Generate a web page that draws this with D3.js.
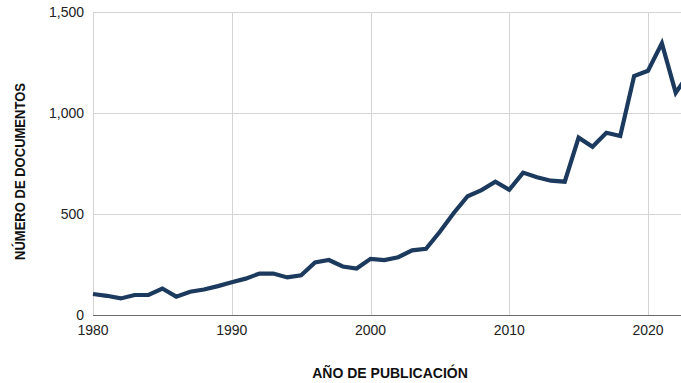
<!DOCTYPE html>
<html>
<head>
<meta charset="utf-8">
<script src="https://cdn.jsdelivr.net/npm/d3@7"></script>
<style>
  html, body { margin: 0; padding: 0; background: #fff; }
  svg { display: block; font-family: "Liberation Sans", Arial, sans-serif; }
</style>
</head>
<body>
<svg id="chart" width="681" height="383"></svg>
<script>
// Publications per year
const years = [1980,1981,1982,1983,1984,1985,1986,1987,1988,1989,
               1990,1991,1992,1993,1994,1995,1996,1997,1998,1999,
               2000,2001,2002,2003,2004,2005,2006,2007,2008,2009,
               2010,2011,2012,2013,2014,2015,2016,2017,2018,2019,
               2020,2021,2022,2023];
const documents = [104,95,82,99,99,131,91,115,126,143,
                   162,180,205,205,186,197,260,272,240,230,
                   278,272,286,320,328,412,505,588,618,660,
                   620,705,682,665,660,878,833,902,886,1183,
                   1209,1345,1100,1200];
const xTicks = [1980, 1990, 2000, 2010, 2020];
const yTicks = [0, 500, 1000, 1500];
const xTitle = "AÑO DE PUBLICACIÓN";
const yTitle = "NÚMERO DE DOCUMENTOS";

const svg = d3.select("#chart");
const W = 681, H = 383;
const plotLeft = 93, plotTop = 12, plotBottom = 315;
const pxPerYear = 13.875;

const x = d3.scaleLinear()
  .domain([1980, 2023])
  .range([plotLeft, plotLeft + 43 * pxPerYear]);
const y = d3.scaleLinear().domain([0, 1500]).range([plotBottom, plotTop]);

const grid = svg.append("g").attr("class", "grid");
// horizontal gridlines
grid.selectAll("line.h")
  .data(yTicks.filter(d => d > 0))
  .join("line")
  .attr("x1", plotLeft).attr("x2", W)
  .attr("y1", d => Math.round(y(d)) + 0.5).attr("y2", d => Math.round(y(d)) + 0.5)
  .attr("stroke", "#d4d4d4").attr("stroke-width", 1);
// vertical gridlines
grid.selectAll("line.v")
  .data(xTicks)
  .join("line")
  .attr("x1", d => Math.round(x(d)) + 0.5).attr("x2", d => Math.round(x(d)) + 0.5)
  .attr("y1", plotTop).attr("y2", plotBottom)
  .attr("stroke", "#d4d4d4").attr("stroke-width", 1);

// baseline
svg.append("line")
  .attr("x1", plotLeft).attr("x2", W)
  .attr("y1", plotBottom + 0.5).attr("y2", plotBottom + 0.5)
  .attr("stroke", "#6b6b6b").attr("stroke-width", 1);

// y tick labels
svg.append("g").selectAll("text")
  .data(yTicks)
  .join("text")
  .attr("x", 84)
  .attr("y", d => y(d))
  .attr("dy", "0.35em")
  .attr("text-anchor", "end")
  .attr("font-size", 14)
  .attr("fill", "#222")
  .text(d3.format(","));

// x tick labels
svg.append("g").selectAll("text")
  .data(xTicks)
  .join("text")
  .attr("x", d => x(d))
  .attr("y", 335)
  .attr("text-anchor", "middle")
  .attr("font-size", 14)
  .attr("fill", "#222")
  .text(d => d);

// series line
const line = d3.line()
  .x((d, i) => x(years[i]))
  .y(d => y(d))
  .curve(d3.curveLinear);
svg.append("path")
  .datum(documents)
  .attr("d", line)
  .attr("fill", "none")
  .attr("stroke", "#1b3a5e")
  .attr("stroke-width", 4.2)
  .attr("stroke-linejoin", "miter")
  .attr("stroke-linecap", "butt");

// axis titles
svg.append("text")
  .attr("x", 390).attr("y", 378)
  .attr("text-anchor", "middle")
  .attr("font-size", 14)
  .attr("font-weight", "bold")
  .attr("fill", "#111")
  .text(xTitle);

// condensed vertical title
svg.append("text")
  .attr("transform", "translate(24.5,171.5) rotate(-90)")
  .attr("text-anchor", "middle")
  .attr("font-size", 15.5)
  .attr("font-weight", "bold")
  .attr("fill", "#111")
  .attr("textLength", 177)
  .attr("lengthAdjust", "spacingAndGlyphs")
  .text(yTitle);
</script>
</body>
</html>
